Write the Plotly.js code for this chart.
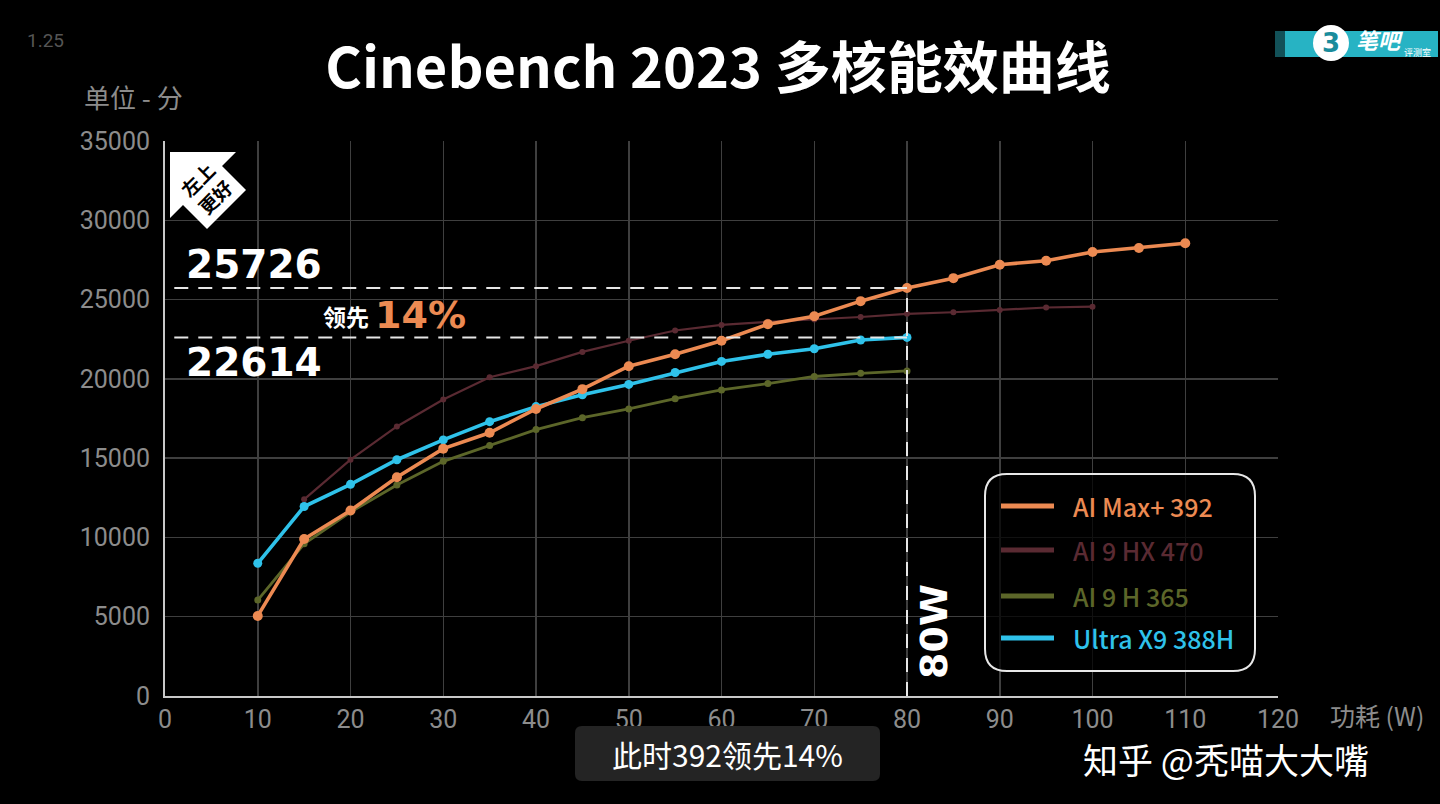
<!DOCTYPE html>
<html><head><meta charset="utf-8">
<script src="https://cdn.plot.ly/plotly-3.0.1.min.js"></script>
<style>html,body{margin:0;padding:0;background:#000;}#chart{width:1440px;height:804px;}</style>
</head><body><div id="chart"></div>
<script>
// ---- data ----
const seriesNames = ['AI Max+ 392', 'AI 9 HX 470', 'AI 9 H 365', 'Ultra X9 388H'];
const seriesColors = ['#ec8a52', '#5a2a32', '#5c6629', '#2fc2ea'];

const xMax392 = [10,15,20,25,30,35,40,45,50,55,60,65,70,75,80,85,90,95,100,105,110];
const yMax392 = [5050,9900,11700,13800,15600,16600,18100,19350,20800,21550,22400,23450,23950,24900,25726,26350,27200,27450,28000,28250,28550];

const xHX470 = [15,20,25,30,35,40,45,50,55,60,65,70,75,80,85,90,95,100];
const yHX470 = [12400,14900,17000,18700,20100,20800,21700,22400,23050,23400,23600,23750,23900,24100,24200,24350,24500,24550];

const xH365 = [10,15,20,25,30,35,40,45,50,55,60,65,70,75,80];
const yH365 = [6050,9600,11600,13300,14800,15800,16800,17550,18100,18750,19300,19700,20150,20350,20500];

const xX9388H = [10,15,20,25,30,35,40,45,50,55,60,65,70,75,80];
const yX9388H = [8370,11950,13350,14900,16150,17300,18250,19000,19650,20400,21100,21550,21900,22450,22614];

const refWatt = 80;
const refHigh = 25726;
const refLow = 22614;
const leadText = '14%';

// ---- layout helpers (pixel -> paper) ----
const L = 165, R = 1278, T = 141, B = 696;
const px = X => (X - L) / (R - L);
const py = Y => (B - Y) / (B - T);
function poly(pts){ return 'M' + pts.map(p => px(p[0]) + ',' + py(p[1])).join(' L') + ' Z'; }
function rr(x0,y0,x1,y1,r){
  const P = (x,y) => px(x) + ',' + py(y);
  return 'M' + P(x0+r,y0) + ' L' + P(x1-r,y0) + ' Q' + P(x1,y0) + ' ' + P(x1,y0+r) +
         ' L' + P(x1,y1-r) + ' Q' + P(x1,y1) + ' ' + P(x1-r,y1) +
         ' L' + P(x0+r,y1) + ' Q' + P(x0,y1) + ' ' + P(x0,y1-r) +
         ' L' + P(x0,y0+r) + ' Q' + P(x0,y0) + ' ' + P(x0+r,y0) + ' Z';
}

const tr = (x, y, i, lw, ms) => ({
  x: x, y: y, name: seriesNames[i], type: 'scatter', mode: 'lines+markers',
  line: {color: seriesColors[i], width: lw, shape: 'linear'},
  marker: {color: seriesColors[i], size: ms},
  showlegend: false, hoverinfo: 'skip'
});
const data = [
  tr(xHX470, yHX470, 1, 2.2, 6),
  tr(xH365, yH365, 2, 2.8, 7),
  tr(xX9388H, yX9388H, 3, 3.6, 9),
  tr(xMax392, yMax392, 0, 3.6, 10)
];

const tickFont = {family: 'Roboto, sans-serif', size: 25, color: '#8c8c8c'};
const cjk = 'Noto Sans CJK SC, sans-serif';

const shapes = [
  // dashed reference lines
  {type:'line', xref:'x', yref:'y', x0:1, x1:refWatt, y0:refHigh, y1:refHigh, line:{color:'#e6e6e6', width:2, dash:'14px,10px'}},
  {type:'line', xref:'x', yref:'y', x0:1, x1:refWatt, y0:refLow, y1:refLow, line:{color:'#e6e6e6', width:2, dash:'14px,10px'}},
  {type:'line', xref:'x', yref:'y', x0:refWatt, x1:refWatt, y0:0, y1:refHigh, line:{color:'#e6e6e6', width:2, dash:'14px,10px'}},
  // legend box
  {type:'path', xref:'paper', yref:'paper', path: rr(985,474,1255,671,22), fillcolor:'rgba(0,0,0,0.72)', line:{color:'#e8e8e8', width:2}, layer:'above'},
  // badge
  {type:'path', xref:'paper', yref:'paper', path: poly([[170,152],[236,152],[222,166],[246,190],[207,229],[183,205],[170,218]]), fillcolor:'#ffffff', line:{width:0}, layer:'above'},
  // subtitle box
  {type:'path', xref:'paper', yref:'paper', path: rr(575,726,880,781,7), fillcolor:'#242424', line:{width:0}, layer:'above'},
  // logo
  {type:'rect', xref:'paper', yref:'paper', x0:px(1285), x1:px(1438), y0:py(57), y1:py(31), fillcolor:'#27b3c4', line:{width:0}, layer:'above'},
  {type:'rect', xref:'paper', yref:'paper', x0:px(1275), x1:px(1300), y0:py(57), y1:py(31), fillcolor:'rgba(39,179,196,0.45)', line:{width:0}, layer:'above'},
  {type:'circle', xref:'paper', yref:'paper', x0:px(1313), x1:px(1349), y0:py(61), y1:py(25), fillcolor:'#ffffff', line:{width:0}, layer:'above'}
];

const legendRows = [506, 550, 596, 638];
seriesNames.forEach((n, i) => {
  shapes.push({type:'line', xref:'paper', yref:'paper', x0:px(1001), x1:px(1054), y0:py(legendRows[i]), y1:py(legendRows[i]),
    line:{color: seriesColors[i], width: 5}, layer:'above'});
});

const annotations = [
  {xref:'paper', yref:'paper', x:px(82), y:py(97), xanchor:'left', yanchor:'middle', showarrow:false,
   text:'单位 - 分', font:{family:cjk, size:26, color:'#8c8c8c'}},
  {xref:'paper', yref:'paper', x:px(25), y:py(40), xanchor:'left', yanchor:'middle', showarrow:false,
   text:'1.25', font:{family:'Roboto, sans-serif', size:19, color:'#555555'}},
  {xref:'paper', yref:'paper', x:px(1328), y:py(715), xanchor:'left', yanchor:'middle', showarrow:false,
   text:'功耗 (W)', font:{family:cjk, size:25, color:'#8c8c8c'}},
  {xref:'paper', yref:'paper', x:px(184), y:py(264), xanchor:'left', yanchor:'middle', showarrow:false,
   text:'<b>' + refHigh + '</b>', font:{family:'DejaVu Sans, sans-serif', size:39, color:'#ffffff'}},
  {xref:'paper', yref:'paper', x:px(184), y:py(362), xanchor:'left', yanchor:'middle', showarrow:false,
   text:'<b>' + refLow + '</b>', font:{family:'DejaVu Sans, sans-serif', size:39, color:'#ffffff'}},
  {xref:'paper', yref:'paper', x:px(371), y:py(316), xanchor:'right', yanchor:'middle', showarrow:false,
   text:'<b>领先</b>', font:{family:cjk, size:23, color:'#ffffff'}},
  {xref:'paper', yref:'paper', x:px(373), y:py(315), xanchor:'left', yanchor:'middle', showarrow:false,
   text:'<b>' + leadText + '</b>', font:{family:'DejaVu Sans, sans-serif', size:38, color:'#ec8a52'}},
  {xref:'paper', yref:'paper', x:px(934), y:py(632), xanchor:'center', yanchor:'middle', showarrow:false, textangle:-90,
   text:'<b>' + refWatt + 'W</b>', font:{family:'DejaVu Sans, sans-serif', size:38, color:'#ffffff'}},
  {xref:'paper', yref:'paper', x:px(206), y:py(188), xanchor:'center', yanchor:'middle', showarrow:false, textangle:-45,
   text:'<b>左上<br>更好</b>', font:{family:cjk, size:19, color:'#000000'}},
  {xref:'paper', yref:'paper', x:px(727), y:py(754), xanchor:'center', yanchor:'middle', showarrow:false,
   text:'此时392领先14%', font:{family:cjk, size:30, color:'#ffffff'}},
  {xref:'paper', yref:'paper', x:px(1226), y:py(758), xanchor:'center', yanchor:'middle', showarrow:false, borderpad:0,
   text:'知乎 @秃喵大大嘴', font:{family:cjk, size:35, color:'#ffffff'}},
  {xref:'paper', yref:'paper', x:px(1331), y:py(43), xanchor:'center', yanchor:'middle', showarrow:false,
   text:'<b>3</b>', font:{family:'DejaVu Sans, sans-serif', size:26, color:'#1a8c9c'}},
  {xref:'paper', yref:'paper', x:px(1355), y:py(39), xanchor:'left', yanchor:'middle', showarrow:false, borderpad:0,
   text:'<b><i>笔吧</i></b>', font:{family:cjk, size:22, color:'#ffffff'}},
  {xref:'paper', yref:'paper', x:px(1403), y:py(52), xanchor:'left', yanchor:'middle', showarrow:false, borderpad:0,
   text:'评测室', font:{family:cjk, size:9, color:'#ffffff'}}
];
seriesNames.forEach((n, i) => {
  annotations.push({xref:'paper', yref:'paper', x:px(1071), y:py(legendRows[i]), xanchor:'left', yanchor:'middle', showarrow:false,
    text: n, font:{family:cjk, size:25, color: seriesColors[i], weight: 500}});
});

const layout = {
  width: 1440, height: 804,
  paper_bgcolor: '#000000', plot_bgcolor: '#000000',
  margin: {l: L, r: 1440 - R, t: T, b: 804 - B, pad: 0},
  title: {text: '<b>Cinebench 2023 多核能效曲线</b>', x: 718/1440, xref: 'container', xanchor: 'center',
          y: 1 - 68/804, yref: 'container', yanchor: 'middle',
          font: {family: cjk, size: 56, color: '#ffffff'}},
  xaxis: {range: [0, 120], dtick: 10, tick0: 0, showgrid: true, gridcolor: '#3f3f3f', gridwidth: 1.5,
          showline: true, linecolor: '#c8c8c8', linewidth: 2, zeroline: false, ticks: '',
          tickfont: tickFont, tickformat: 'd', fixedrange: true},
  yaxis: {range: [0, 35000], dtick: 5000, tick0: 0, showgrid: true, gridcolor: '#3f3f3f', gridwidth: 1.5,
          showline: true, linecolor: '#c8c8c8', linewidth: 2, zeroline: false, ticks: '',
          tickfont: tickFont, tickformat: 'd', ticklabelstandoff: 8, fixedrange: true},
  shapes: shapes,
  annotations: annotations,
  showlegend: false
};

Plotly.newPlot('chart', data, layout, {staticPlot: true, displayModeBar: false});
</script></body></html>
